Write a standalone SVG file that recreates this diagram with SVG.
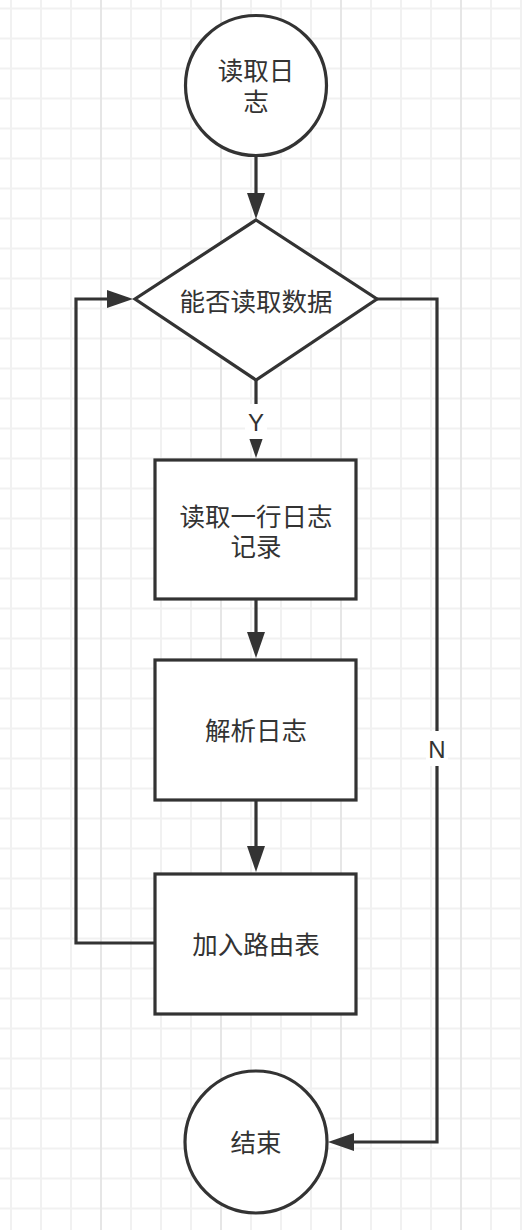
<svg xmlns="http://www.w3.org/2000/svg" width="522" height="1230" viewBox="0 0 522 1230">
  <defs>
    <pattern id="gridMinor" patternUnits="userSpaceOnUse" x="-4" y="-6.5" width="30" height="30">
      <path d="M15,0 V30 M0,15 H30" stroke="#f1f1f1" stroke-width="2" fill="none"/>
    </pattern>
    <pattern id="gridMajor" patternUnits="userSpaceOnUse" x="86" y="0" width="120" height="30">
      <path d="M15,0 V30" stroke="#e6e6e6" stroke-width="2" fill="none"/>
    </pattern>
    <marker id="arrow" markerUnits="userSpaceOnUse" viewBox="0 0 26 20" markerWidth="26" markerHeight="20" refX="14" refY="10" orient="auto">
      <path d="M0,1 L26,10 L0,19 Z" fill="#333333"/>
    </marker>
  </defs>
  <style>
    .shape { fill: #ffffff; stroke: #333333; stroke-width: 3.2; }
    .edge { fill: none; stroke: #333333; stroke-width: 3.2; marker-end: url(#arrow); }
    .label { font-family: "Liberation Sans", "Noto Sans CJK SC", sans-serif; font-size: 25.5px; fill: #333333; text-anchor: middle; dominant-baseline: central; }
    .elabel { font-family: "Liberation Sans", sans-serif; font-size: 24px; fill: #333333; text-anchor: middle; dominant-baseline: central; }
    .elabel-bg { fill: #ffffff; }
  </style>

  <rect x="0" y="0" width="522" height="1230" fill="#ffffff"/>
  <rect x="0" y="0" width="522" height="1230" fill="url(#gridMinor)"/>
  <rect x="0" y="0" width="522" height="1230" fill="url(#gridMajor)"/>

  <g id="connectors">
    <path class="edge" d="M256,156 L256,207"/>
    <path class="edge" d="M256,380 L256,446"/>
    <path class="edge" d="M256,599 L256,646"/>
    <path class="edge" d="M256,800 L256,860"/>
    <path class="edge" d="M155,943 L76,943 L76,299 L121,299"/>
    <path class="edge" d="M377,299 L437,299 L437,1142 L340,1142"/>
    <rect class="elabel-bg" x="245" y="404" width="22" height="35"/>
    <text class="elabel" x="256" y="422">Y</text>
    <rect class="elabel-bg" x="426" y="731" width="22" height="35"/>
    <text class="elabel" x="437" y="749">N</text>
  </g>

  <g id="start">
    <ellipse class="shape" cx="256" cy="85.5" rx="70.5" ry="70"/>
    <text class="label" x="256" y="71">读取日</text>
    <text class="label" x="256" y="102">志</text>
  </g>

  <g id="decision">
    <polygon class="shape" points="256,220 377,299 256,380 135,299"/>
    <text class="label" x="256" y="302">能否读取数据</text>
  </g>

  <g id="readLine">
    <rect class="shape" x="155" y="460" width="201" height="139"/>
    <text class="label" x="256" y="517">读取一行日志</text>
    <text class="label" x="256" y="547">记录</text>
  </g>

  <g id="parse">
    <rect class="shape" x="155" y="660" width="201" height="140"/>
    <text class="label" x="256" y="731">解析日志</text>
  </g>

  <g id="addRoute">
    <rect class="shape" x="155" y="874" width="201" height="140"/>
    <text class="label" x="256" y="945">加入路由表</text>
  </g>

  <g id="end">
    <circle class="shape" cx="256" cy="1142" r="71"/>
    <text class="label" x="256" y="1143">结束</text>
  </g>
</svg>
